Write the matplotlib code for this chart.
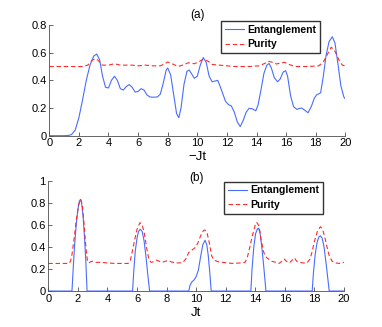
import numpy as np
import matplotlib
matplotlib.use("Agg")
from matplotlib import pyplot as plt

plt.rcParams['font.family'] = ['Liberation Sans', 'DejaVu Sans']

# panel (a)
ta_ent = [0, 0.5, 1.0, 1.3, 1.5, 1.75, 2.0, 2.25, 2.5, 2.75, 3.0, 3.2, 3.4, 3.6, 3.8,
          4.0, 4.2, 4.4, 4.6, 4.8, 5.0, 5.2, 5.4, 5.6, 5.8, 6.0, 6.2, 6.4, 6.6, 6.8,
          7.0, 7.3, 7.5, 7.7, 7.9, 8.0, 8.2, 8.4, 8.6, 8.75, 8.9, 9.1, 9.3, 9.45, 9.6,
          9.8, 10.0, 10.2, 10.4, 10.6, 10.8, 11.0, 11.2, 11.38, 11.6, 11.9, 12.1, 12.3,
          12.5, 12.7, 12.9, 13.1, 13.3, 13.5, 13.7, 13.95, 14.1, 14.3, 14.5, 14.7, 14.85,
          15.0, 15.2, 15.42, 15.6, 15.8, 15.97, 16.1, 16.3, 16.5, 16.73, 16.9, 17.05,
          17.25, 17.48, 17.7, 17.9, 18.05, 18.33, 18.5, 18.7, 18.9, 19.12, 19.3, 19.5,
          19.7, 19.9, 20.0]
a_ent = [0, 0, 0, 0.002, 0.008, 0.04, 0.13, 0.26, 0.40, 0.51, 0.575, 0.59, 0.55, 0.43, 0.35,
         0.345, 0.40, 0.43, 0.40, 0.34, 0.33, 0.355, 0.37, 0.35, 0.315, 0.32, 0.34, 0.33, 0.295, 0.28,
         0.278, 0.28, 0.30, 0.38, 0.475, 0.49, 0.44, 0.30, 0.16, 0.13, 0.20, 0.37, 0.465, 0.475, 0.45,
         0.415, 0.43, 0.51, 0.565, 0.53, 0.43, 0.39, 0.395, 0.40, 0.34, 0.25, 0.225, 0.215,
         0.17, 0.10, 0.066, 0.11, 0.17, 0.198, 0.195, 0.18, 0.22, 0.33, 0.45, 0.51, 0.522,
         0.49, 0.42, 0.39, 0.41, 0.46, 0.47, 0.43, 0.29, 0.21, 0.19, 0.197, 0.20,
         0.185, 0.166, 0.21, 0.27, 0.294, 0.31, 0.42, 0.58, 0.68, 0.715, 0.67, 0.52,
         0.36, 0.28, 0.265]

ta_pur = [0, 2.3, 2.6, 2.9, 3.1, 3.3, 3.6, 4.0, 4.4, 4.8, 5.2, 5.6, 6.0, 6.5, 7.0, 7.5,
          7.8, 8.0, 8.3, 8.7, 9.0, 9.4, 9.8, 10.1, 10.4, 10.7, 11.0, 11.5, 12.0, 12.5,
          13.5, 14.2, 14.6, 14.85, 15.1, 15.35, 15.6, 15.9, 16.2, 16.6, 17.5, 18.2, 18.5,
          18.8, 19.05, 19.3, 19.6, 19.8, 20.0]
a_pur = [0.5, 0.5, 0.51, 0.545, 0.557, 0.545, 0.51, 0.51, 0.52, 0.51, 0.51, 0.51, 0.505, 0.51, 0.505, 0.505,
         0.52, 0.533, 0.52, 0.50, 0.51, 0.527, 0.52, 0.535, 0.552, 0.54, 0.515, 0.51, 0.505, 0.50,
         0.50, 0.505, 0.525, 0.537, 0.53, 0.518, 0.525, 0.53, 0.515, 0.50, 0.50, 0.505, 0.53,
         0.59, 0.64, 0.61, 0.54, 0.51, 0.505]

# panel (b)
tb_ent = [0, 1.60, 1.68, 1.78, 1.9, 2.0, 2.1, 2.17, 2.25, 2.35, 2.45, 2.54, 2.62,
          5.70, 5.78, 5.88, 6.0, 6.1, 6.22, 6.35, 6.47, 6.6, 6.72, 6.85,
          9.50, 9.58, 9.7, 9.85, 10.0, 10.15, 10.3, 10.45, 10.6, 10.72, 10.82, 10.92, 11.02,
          13.70, 13.78, 13.9, 14.02, 14.15, 14.22, 14.32, 14.44, 14.56, 14.72,
          17.85, 17.93, 18.05, 18.18, 18.3, 18.4, 18.52, 18.65, 18.78, 18.9, 19.0, 20.0]
b_ent = [0, 0, 0.2, 0.42, 0.62, 0.74, 0.815, 0.83, 0.80, 0.68, 0.48, 0.26, 0,
         0, 0.18, 0.36, 0.48, 0.54, 0.56, 0.54, 0.46, 0.32, 0.16, 0,
         0, 0.05, 0.08, 0.10, 0.13, 0.19, 0.31, 0.42, 0.46, 0.42, 0.32, 0.17, 0,
         0, 0.2, 0.4, 0.52, 0.565, 0.57, 0.53, 0.40, 0.24, 0,
         0, 0.16, 0.33, 0.44, 0.49, 0.50, 0.48, 0.40, 0.26, 0.12, 0, 0]

tb_pur = [0, 1.4, 1.5, 1.6, 1.75, 1.9, 2.05, 2.18, 2.3, 2.42, 2.55, 2.65, 2.75, 2.85, 3.0,
          3.2, 3.5, 4.0, 4.5, 5.0, 5.4, 5.55, 5.7, 5.85, 6.0, 6.2, 6.35, 6.5, 6.65, 6.8,
          6.95, 7.1, 7.3, 7.5, 7.7, 7.9, 8.1, 8.3, 8.6, 8.9, 9.1, 9.3, 9.5, 9.7, 9.9,
          10.1, 10.3, 10.5, 10.6, 10.75, 10.9, 11.05, 11.2, 11.4, 11.6, 11.8, 12.1, 12.5,
          13.0, 13.3, 13.45, 13.6, 13.8, 14.0, 14.1, 14.25, 14.4, 14.55, 14.7, 14.9, 15.1,
          15.4, 15.6, 15.8, 15.95, 16.1, 16.3, 16.5, 16.65, 16.8, 17.0, 17.2, 17.5, 17.7,
          17.85, 18.0, 18.2, 18.4, 18.55, 18.7, 18.85, 19.0, 19.2, 19.4, 19.7, 20.0]
b_pur = [0.25, 0.25, 0.27, 0.33, 0.48, 0.65, 0.78, 0.835, 0.78, 0.60, 0.38, 0.27, 0.255, 0.265, 0.27,
         0.26, 0.26, 0.255, 0.25, 0.25, 0.25, 0.28, 0.37, 0.47, 0.56, 0.62, 0.60, 0.52, 0.39, 0.29,
         0.26, 0.265, 0.28, 0.27, 0.26, 0.27, 0.275, 0.265, 0.255, 0.255, 0.26, 0.29, 0.35, 0.37, 0.39,
         0.43, 0.50, 0.55, 0.553, 0.52, 0.43, 0.32, 0.28, 0.27, 0.26, 0.26, 0.255, 0.25,
         0.255, 0.26, 0.30, 0.38, 0.50, 0.60, 0.622, 0.59, 0.46, 0.36, 0.31, 0.29, 0.27,
         0.26, 0.25, 0.27, 0.29, 0.27, 0.255, 0.28, 0.30, 0.27, 0.26, 0.255, 0.255, 0.29,
         0.36, 0.45, 0.54, 0.583, 0.56, 0.49, 0.40, 0.32, 0.27, 0.255, 0.25, 0.26]

xticks = np.arange(0, 21, 2)
blue = '#4a6cff'
red = '#ff2a2a'


def estilo(ax, ymax, ystep):
    ax.set_xlim(0, 20)
    ax.set_ylim(0, ymax)
    ax.set_xticks(xticks)
    ax.set_yticks(np.arange(0, ymax + 0.001, ystep))
    ax.set_yticklabels(['%g' % v for v in np.arange(0, ymax + 0.001, ystep)])
    ax.spines['top'].set_visible(False)
    ax.spines['right'].set_visible(False)
    for s in ['left', 'bottom']:
        ax.spines[s].set_color('0.3')
        ax.spines[s].set_linewidth(0.6)
    ax.tick_params(direction='in', length=3, width=0.6, color='0.3', labelsize=8, pad=2)


fig = plt.figure(figsize=(3.82, 3.27), dpi=100)
ax1 = fig.add_axes([0.129, 0.585, 0.775, 0.3385])
ax2 = fig.add_axes([0.1265, 0.110, 0.774, 0.3373])

ax1.plot(ta_ent, a_ent, color=blue, lw=0.8, label='Entanglement')
ax1.plot(ta_pur, a_pur, color=red, lw=0.8, ls=(0, (4, 2.5)), label='Purity')
estilo(ax1, 0.8, 0.2)
ax1.text(0.5, 1.09, '(a)', transform=ax1.transAxes, ha='center', va='center', fontsize=8.5)
ax1.text(0.5, -0.19, '\u2212Jt', transform=ax1.transAxes, ha='center', va='center', fontsize=9.5)
ax1.legend(loc='upper left', bbox_to_anchor=(0.58, 1.035), prop={'weight': 'bold', 'size': 7.5},
           fancybox=False, edgecolor='0.2', framealpha=1, handlelength=1.9, handletextpad=0.3,
           borderpad=0.35, labelspacing=0.45, borderaxespad=0)

ax2.plot(tb_ent, b_ent, color=blue, lw=0.8, label='Entanglement')
ax2.plot(tb_pur, b_pur, color=red, lw=0.8, ls=(0, (4, 2.5)), label='Purity')
estilo(ax2, 1.0, 0.2)
ax2.text(0.5, 1.024, '(b)', transform=ax2.transAxes, ha='center', va='center', fontsize=8.5)
ax2.text(0.5, -0.2, 'Jt', transform=ax2.transAxes, ha='center', va='center', fontsize=9.5)
ax2.legend(loc='upper left', bbox_to_anchor=(0.594, 0.992), prop={'weight': 'bold', 'size': 7.5},
           fancybox=False, edgecolor='0.2', framealpha=1, handlelength=1.9, handletextpad=0.3,
           borderpad=0.35, labelspacing=0.45, borderaxespad=0)

fig.savefig('out.png', dpi=100)
